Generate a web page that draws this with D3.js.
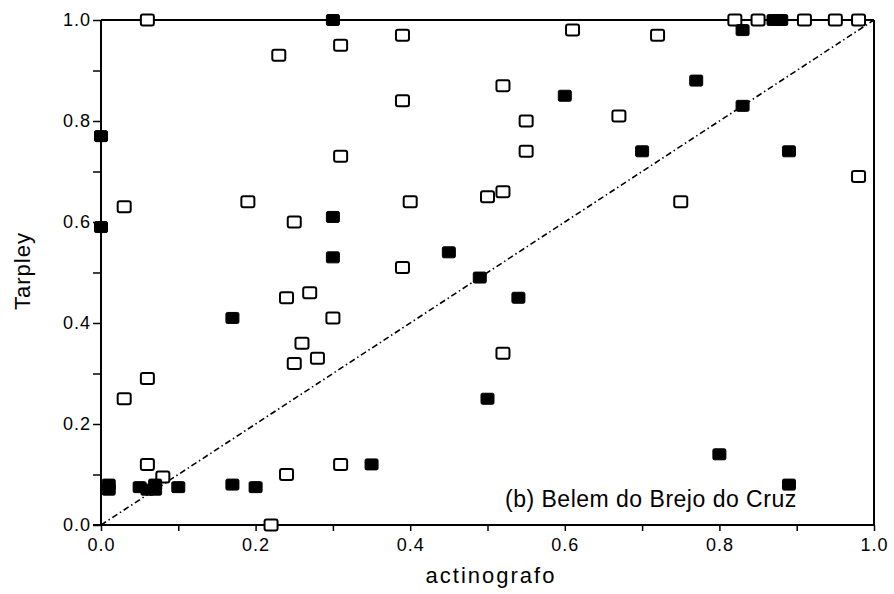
<!DOCTYPE html>
<html><head><meta charset="utf-8">
<script src="https://cdn.jsdelivr.net/npm/d3@7"></script>
<style>body{margin:0;background:#fff}svg{display:block}text{font-family:"Liberation Sans",Arial,sans-serif;fill:#000}</style>
</head><body><svg id="c" width="894" height="594"></svg>
<script>
// open squares
const openX = [0.06,0.23,0.31,0.39,0.39,0.31,0.03,0.19,0.25,0.40,0.61,0.72,0.52,0.55,0.55,0.67,0.50,0.52,0.75,0.98,0.82,0.85,0.91,0.95,0.98,0.39,0.24,0.27,0.30,0.26,0.25,0.28,0.06,0.03,0.52,0.06,0.08,0.24,0.31,0.22];
const openY = [1.00,0.93,0.95,0.97,0.84,0.73,0.63,0.64,0.60,0.64,0.98,0.97,0.87,0.80,0.74,0.81,0.65,0.66,0.64,0.69,1.00,1.00,1.00,1.00,1.00,0.51,0.45,0.46,0.41,0.36,0.32,0.33,0.29,0.25,0.34,0.12,0.095,0.10,0.12,0.00];
// filled squares
const fillX = [0.30,0.00,0.00,0.30,0.30,0.60,0.70,0.77,0.83,0.83,0.87,0.88,0.89,0.45,0.49,0.54,0.50,0.17,0.01,0.01,0.05,0.06,0.07,0.07,0.10,0.17,0.20,0.35,0.80,0.89];
const fillY = [1.00,0.77,0.59,0.61,0.53,0.85,0.74,0.88,0.98,0.83,1.00,1.00,0.74,0.54,0.49,0.45,0.25,0.41,0.08,0.07,0.075,0.07,0.08,0.07,0.075,0.08,0.075,0.12,0.14,0.08];
const xTicks = [0,0.1,0.2,0.3,0.4,0.5,0.6,0.7,0.8,0.9,1.0];
const xLabels = [0,0.2,0.4,0.6,0.8,1.0];
const yTicks = [0,0.1,0.2,0.3,0.4,0.5,0.6,0.7,0.8,0.9,1.0];
const yLabels = [0,0.2,0.4,0.6,0.8,1.0];
const xTitle = "actinografo", yTitle = "Tarpley", note = "(b) Belem do Brejo do Cruz";

const svg = d3.select("#c");
const L=101,R=874,T=20,B=525;
const x = d3.scaleLinear().domain([0,1]).range([L,R]);
const y = d3.scaleLinear().domain([0,1]).range([B,T]);

// frame top & right
svg.append("line").attr("x1",L).attr("x2",R).attr("y1",T).attr("y2",T).attr("stroke","#000").attr("stroke-width",2);
svg.append("line").attr("x1",R).attr("x2",R).attr("y1",T).attr("y2",B).attr("stroke","#000").attr("stroke-width",2);

const fmt = d3.format(".1f");
const xa = svg.append("g").attr("transform",`translate(0,${B})`)
  .call(d3.axisBottom(x).tickValues(xTicks).tickSize(6).tickPadding(6).tickFormat(d=>xLabels.some(v=>Math.abs(v-d)<1e-9)?fmt(d):""));
const ya = svg.append("g").attr("transform",`translate(${L},0)`)
  .call(d3.axisLeft(y).tickValues(yTicks).tickSize(8).tickPadding(2).tickFormat(d=>yLabels.some(v=>Math.abs(v-d)<1e-9)?fmt(d):""));
[xa,ya].forEach(g=>{
  g.select(".domain").attr("stroke-width",2).attr("stroke","#000");
  g.selectAll(".tick line").attr("stroke-width",1.5).attr("stroke","#000");
  g.selectAll("text").attr("font-size",18).style("letter-spacing","1px").attr("fill","#000");
});
xa.select(".domain").attr("d",`M${L-8},0H${R}`);
ya.select(".domain").attr("d",`M0,${B}V${T}`);
xa.selectAll(".tick text").attr("dy","0.75em");

// diagonal
svg.append("line").attr("x1",x(0)).attr("y1",y(0)).attr("x2",x(1)).attr("y2",y(1))
  .attr("stroke","#000").attr("stroke-width",1.6).attr("stroke-dasharray","6,3,1.5,3");

const w=13,h=11;
svg.append("g").selectAll("rect").data(openX.map((v,i)=>[v,openY[i]])).join("rect")
  .attr("x",d=>x(d[0])-w/2).attr("y",d=>y(d[1])-h/2).attr("width",w).attr("height",h).attr("rx",2)
  .attr("fill","#fff").attr("stroke","#000").attr("stroke-width",2);
svg.append("g").selectAll("rect").data(fillX.map((v,i)=>[v,fillY[i]])).join("rect")
  .attr("x",d=>x(d[0])-w/2).attr("y",d=>y(d[1])-h/2).attr("width",w).attr("height",h).attr("rx",1.5)
  .attr("fill","#000").attr("stroke","#000").attr("stroke-width",1);

svg.append("text").attr("x",491).attr("y",583).attr("text-anchor","middle").attr("font-size",22).style("letter-spacing","2px").text(xTitle);
svg.append("text").attr("transform",`translate(30,271) rotate(-90)`).attr("text-anchor","middle").attr("font-size",22).style("letter-spacing","1px").text(yTitle);
svg.append("text").attr("x",505).attr("y",507).attr("font-size",23).style("letter-spacing","0.5px").text(note);
</script></body></html>
